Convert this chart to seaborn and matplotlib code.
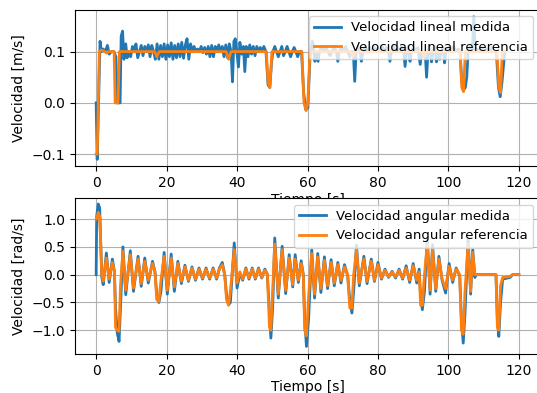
import numpy as np
import seaborn as sns
import matplotlib
matplotlib.use("Agg")
import matplotlib.pyplot as plt

# --- velocidad lineal medida (tiempo [s], valor [m/s]) ---
t_lin_med = [
    0.0, 0.3, 1.1, 1.5, 2.0, 2.6, 3.2, 3.7, 4.3, 5.0,
    5.6, 6.0, 6.8, 7.1, 7.5, 7.9, 8.4, 8.8, 9.3, 9.8,
    10.3, 10.8, 11.3, 11.8, 12.3, 12.8, 13.3, 13.8, 14.3, 14.8,
    15.3, 15.8, 16.3, 16.8, 17.3, 17.8, 18.3, 18.8, 19.3, 19.8,
    20.3, 20.8, 21.3, 21.8, 22.3, 22.8, 23.3, 23.8, 24.3, 24.8,
    25.3, 25.8, 26.3, 26.8, 27.3, 27.8, 28.3, 28.8, 29.3, 29.8,
    30.3, 30.8, 31.3, 31.8, 32.3, 32.8, 33.3, 33.8, 34.3, 34.8,
    35.3, 35.8, 36.3, 36.8, 37.3, 37.8, 38.3, 38.7, 39.1, 39.5,
    39.9, 40.4, 40.8, 41.3, 41.8, 42.2, 42.6, 43.1, 43.6, 44.1,
    44.6, 45.1, 45.6, 46.1, 46.6, 47.1, 47.6, 48.2, 48.8, 49.3,
    49.8, 50.2, 50.7, 51.2, 51.7, 52.2, 52.7, 53.2, 53.7, 54.2,
    54.7, 55.2, 55.7, 56.2, 56.7, 57.2, 57.7, 58.3, 58.9, 59.5,
    60.1, 60.7, 61.4, 61.8, 62.1, 62.5, 63.0, 63.4, 64.0, 64.6,
    65.2, 65.8, 66.4, 67.0, 67.6, 68.2, 68.6, 69.0, 69.6, 70.2,
    70.8, 71.4, 72.0, 72.6, 73.0, 73.4, 73.8, 74.4, 74.9, 75.3,
    75.7, 76.3, 77.0, 77.6, 78.2, 78.8, 79.4, 80.0, 80.6, 81.2,
    81.8, 82.4, 83.0, 83.4, 83.8, 84.4, 85.0, 85.6, 86.2, 86.8,
    87.3, 87.7, 88.1, 88.6, 89.1, 89.5, 90.1, 90.7, 91.3, 92.0,
    92.4, 92.9, 93.4, 93.8, 94.2, 94.7, 95.2, 95.6, 96.1, 96.6,
    97.0, 97.5, 98.0, 98.5, 98.9, 99.3, 100.0, 100.7, 101.4, 102.1,
    102.8, 103.3, 103.8, 104.3, 104.8, 105.2, 105.6, 106.2, 106.8, 107.2,
    107.6, 108.2, 108.8, 109.5, 110.2, 110.9, 111.6, 112.3, 113.0, 113.6,
    114.2, 114.7, 115.2, 115.6, 116.0,
]
v_lin_med = [
    0.0, -0.11, 0.12, 0.10, 0.105, 0.10, 0.112, 0.095, 0.10, 0.10,
    0.09, 0.0, 0.0, 0.13, 0.14, 0.085, 0.115, 0.088, 0.10, 0.09,
    0.11, 0.10, 0.115, 0.088, 0.10, 0.112, 0.092, 0.11, 0.10, 0.113,
    0.09, 0.112, 0.10, 0.085, 0.115, 0.085, 0.112, 0.09, 0.115, 0.085,
    0.113, 0.09, 0.117, 0.085, 0.112, 0.088, 0.115, 0.09, 0.118, 0.087,
    0.112, 0.125, 0.085, 0.115, 0.10, 0.11, 0.10, 0.105, 0.10, 0.11,
    0.098, 0.108, 0.095, 0.11, 0.09, 0.112, 0.09, 0.11, 0.10, 0.113,
    0.10, 0.11, 0.09, 0.113, 0.088, 0.115, 0.10, 0.041, 0.12, 0.125,
    0.10, 0.07, 0.118, 0.095, 0.11, 0.061, 0.11, 0.09, 0.113, 0.095,
    0.11, 0.092, 0.11, 0.10, 0.108, 0.10, 0.11, 0.10, 0.035, 0.03,
    0.08, 0.10, 0.11, 0.10, 0.09, 0.10, 0.11, 0.092, 0.10, 0.11,
    0.10, 0.09, 0.10, 0.108, 0.10, 0.09, 0.10, 0.10, 0.02, -0.013,
    -0.01, 0.09, 0.12, 0.10, 0.081, 0.10, 0.081, 0.10, 0.11, 0.10,
    0.108, 0.10, 0.092, 0.10, 0.11, 0.10, 0.081, 0.10, 0.108, 0.10,
    0.11, 0.10, 0.09, 0.10, 0.10, 0.042, 0.10, 0.11, 0.10, 0.081,
    0.10, 0.11, 0.10, 0.108, 0.10, 0.11, 0.10, 0.108, 0.10, 0.11,
    0.10, 0.108, 0.10, 0.081, 0.10, 0.11, 0.10, 0.108, 0.10, 0.11,
    0.10, 0.071, 0.10, 0.11, 0.081, 0.10, 0.11, 0.10, 0.108, 0.075,
    0.10, 0.09, 0.10, 0.05, 0.10, 0.11, 0.08, 0.10, 0.11, 0.08,
    0.10, 0.085, 0.10, 0.11, 0.078, 0.10, 0.108, 0.10, 0.11, 0.10,
    0.105, 0.10, 0.04, 0.025, 0.03, 0.05, 0.10, 0.11, 0.10, 0.168,
    0.10, 0.105, 0.10, 0.108, 0.10, 0.105, 0.10, 0.108, 0.10, 0.10,
    0.03, 0.012, 0.04, 0.071, 0.10,
]

# --- velocidad lineal referencia ---
t_lin_ref = [
    0.0, 0.3, 0.9, 1.4, 2.5, 3.0, 3.5, 5.1, 5.4, 6.2,
    6.6, 16.6, 17.2, 17.9, 36.9, 37.6, 38.3, 48.3, 48.8, 49.3,
    49.9, 58.4, 59.0, 59.6, 60.1, 60.7, 72.3, 72.9, 73.5, 92.6,
    93.1, 93.6, 103.3, 103.8, 104.3, 104.8, 113.8, 114.3, 114.8, 115.3,
    116.0,
]
v_lin_ref = [
    -0.10, -0.10, 0.10, 0.103, 0.10, 0.097, 0.10, 0.10, 0.0, 0.0,
    0.10, 0.10, 0.09, 0.10, 0.10, 0.085, 0.10, 0.10, 0.04, 0.03,
    0.10, 0.10, 0.0, -0.015, 0.0, 0.10, 0.10, 0.09, 0.10, 0.10,
    0.09, 0.10, 0.10, 0.03, 0.022, 0.10, 0.10, 0.03, 0.02, 0.10,
    0.10,
]

# --- velocidad angular (tiempo comun, referencia y medida) [rad/s] ---
t_ang = [
    0.0, 0.15, 0.6, 1.0, 1.6, 2.0, 2.9, 3.7, 4.6, 5.2,
    5.5, 6.0, 6.5, 6.9, 7.6, 8.4, 9.7, 10.6, 11.9, 12.8,
    13.8, 14.8, 16.0, 16.7, 17.2, 17.8, 18.4, 19.3, 20.2, 21.3,
    22.2, 23.2, 24.2, 25.2, 26.2, 27.2, 28.2, 29.2, 30.2, 31.2,
    32.2, 33.2, 34.2, 35.0, 35.8, 36.5, 37.0, 37.6, 38.1, 39.2,
    40.0, 40.8, 41.6, 42.5, 43.4, 44.3, 45.2, 46.1, 47.0, 47.9,
    48.6, 49.2, 49.6, 50.1, 50.7, 51.7, 52.8, 53.8, 54.8, 55.8,
    56.5, 57.4, 58.2, 58.8, 59.2, 59.7, 60.3, 61.2, 62.0, 62.9,
    63.8, 64.8, 65.7, 66.7, 67.6, 68.6, 69.5, 70.5, 71.4, 72.0,
    72.6, 73.1, 73.9, 74.7, 76.0, 76.9, 78.1, 79.0, 80.0, 81.0,
    82.0, 83.0, 84.0, 85.0, 86.0, 87.0, 88.0, 89.0, 90.0, 91.0,
    91.7, 92.1, 92.6, 93.2, 94.0, 94.8, 95.5, 96.4, 97.3, 98.2,
    99.2, 100.2, 101.2, 102.2, 103.2, 103.7, 104.2, 104.7, 105.6, 106.3,
    106.9, 107.5, 107.8, 113.5, 113.9, 114.3, 114.8, 115.4, 117.5, 118.2,
    120.0,
]
w_ref = [
    1.00, 1.02, 1.12, 1.05, 0.0, -0.12, 0.30, -0.08, 0.22, 0.05,
    -0.95, -1.0, -1.02, -0.2, 0.42, -0.28, 0.36, -0.24, 0.28, -0.16,
    0.24, -0.10, 0.20, 0.05, -0.45, -0.48, -0.10, 0.33, -0.28, 0.30,
    -0.22, 0.20, -0.12, 0.14, -0.10, 0.12, -0.08, 0.10, -0.06, 0.10,
    -0.06, 0.10, -0.06, 0.10, 0.18, 0.0, -0.45, -0.55, -0.30, 0.45,
    -0.15, 0.05, -0.08, 0.10, -0.06, 0.10, -0.06, 0.10, -0.05, 0.08,
    0.02, -0.95, -1.0, -0.30, 0.55, -0.35, 0.45, -0.28, 0.30, -0.18,
    0.28, -0.10, 0.20, 0.0, -1.0, -1.1, -0.40, 0.38, -0.35, 0.32,
    -0.25, 0.26, -0.20, 0.22, -0.15, 0.18, -0.10, 0.14, 0.0, -0.60,
    -0.60, 0.0, 0.45, -0.15, 0.28, -0.12, 0.24, -0.10, 0.18, -0.06,
    0.08, -0.04, 0.05, -0.04, 0.08, -0.06, 0.12, -0.10, 0.16, -0.10,
    0.05, -0.55, -0.55, 0.0, 0.55, -0.28, 0.45, -0.25, 0.28, -0.08,
    -0.25, 0.15, -0.10, 0.10, 0.0, -1.0, -1.07, -0.30, 0.55, -0.30,
    0.40, 0.0, 0.0, 0.0, -0.95, -1.0, -0.20, -0.05, -0.03, 0.0,
    0.0,
]
w_med = [
    0.00, 1.05, 1.27, 1.20, -0.05, -0.18, 0.39, -0.14, 0.28, 0.05,
    -0.60, -1.05, -1.20, -0.60, 0.50, -0.36, 0.43, -0.30, 0.33, -0.21,
    0.30, -0.15, 0.24, 0.05, -0.35, -0.50, -0.30, 0.40, -0.35, 0.37,
    -0.30, 0.24, -0.16, 0.17, -0.12, 0.14, -0.10, 0.12, -0.08, 0.12,
    -0.08, 0.12, -0.08, 0.12, 0.22, 0.0, -0.35, -0.54, -0.50, 0.57,
    -0.24, 0.02, -0.10, 0.12, -0.08, 0.12, -0.08, 0.12, -0.06, 0.10,
    0.0, -0.70, -1.14, -0.60, 0.66, -0.42, 0.51, -0.34, 0.36, -0.22,
    0.36, -0.14, 0.25, 0.0, -0.80, -1.29, -0.80, 0.45, -0.42, 0.38,
    -0.32, 0.32, -0.25, 0.27, -0.20, 0.22, -0.15, 0.18, -0.02, -0.45,
    -0.69, -0.30, 0.53, -0.20, 0.33, -0.16, 0.28, -0.12, 0.22, -0.08,
    0.10, -0.05, 0.06, -0.06, 0.10, -0.08, 0.16, -0.14, 0.20, -0.15,
    0.10, -0.40, -0.63, -0.30, 0.66, -0.35, 0.54, -0.30, 0.33, -0.10,
    -0.33, 0.20, -0.14, 0.12, -0.02, -0.80, -1.23, -0.70, 0.66, -0.35,
    0.45, -0.05, 0.0, 0.0, -0.80, -1.11, -0.50, -0.08, -0.05, 0.0,
    0.0,
]

azul = "#1f77b4"
naranja = "#ff7f0e"

fig = plt.figure(figsize=(5.37, 3.93), dpi=100)
ax1 = fig.add_axes([0.1397, 0.5776, 0.8659, 0.3982])
ax2 = fig.add_axes([0.1397, 0.0992, 0.8659, 0.3970])

# lineal
sns.lineplot(x=t_lin_med, y=v_lin_med, ax=ax1, color=azul, linewidth=2,
             estimator=None, sort=False, label="Velocidad lineal medida")
sns.lineplot(x=t_lin_ref, y=v_lin_ref, ax=ax1, color=naranja, linewidth=2,
             estimator=None, sort=False, label="Velocidad lineal referencia")
ax1.set_xlim(-6, 126)
ax1.set_ylim(-0.123, 0.182)
ax1.set_yticks([-0.1, 0.0, 0.1])
ax1.set_xticks([0, 20, 40, 60, 80, 100, 120])
ax1.set_xlabel("Tiempo [s]", labelpad=2)
ax1.set_ylabel("Velocidad [m/s]")
ax1.grid(True)
ax1.legend(loc="upper right", fontsize=9.5)

# angular
sns.lineplot(x=t_ang, y=w_med, ax=ax2, color=azul, linewidth=2,
             estimator=None, sort=False, label="Velocidad angular medida")
sns.lineplot(x=t_ang, y=w_ref, ax=ax2, color=naranja, linewidth=2,
             estimator=None, sort=False, label="Velocidad angular referencia")
ax2.set_xlim(-6, 126)
ax2.set_ylim(-1.426, 1.378)
ax2.set_yticks([-1.0, -0.5, 0.0, 0.5, 1.0])
ax2.set_xticks([0, 20, 40, 60, 80, 100, 120])
ax2.set_xlabel("Tiempo [s]", labelpad=1.5)
ax2.set_ylabel("Velocidad [rad/s]")
ax2.grid(True)
ax2.legend(loc="upper right", fontsize=9.5)

fig.savefig("out.png", dpi=100)
